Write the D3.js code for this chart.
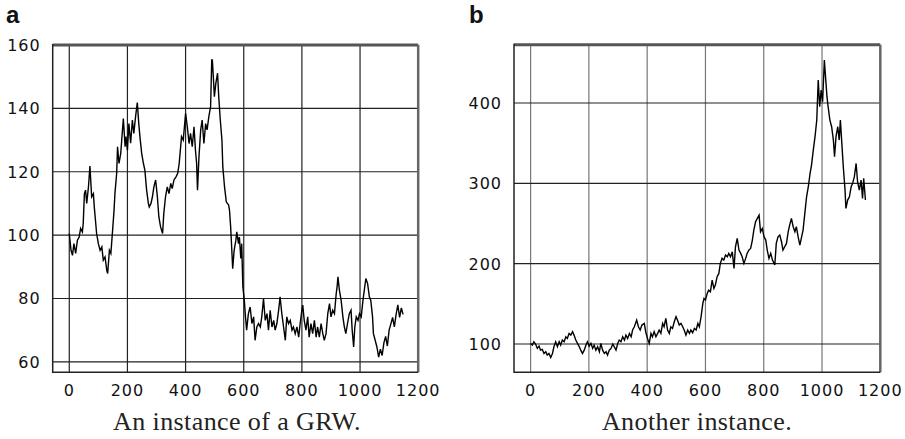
<!DOCTYPE html>
<html>
<head>
<meta charset="utf-8">
<script src="https://cdn.jsdelivr.net/npm/d3@7"></script>
<style>
  body { margin: 0; background: #fff; }
  svg { display: block; }
  .tick-label { font-family: "DejaVu Sans", sans-serif; font-size: 16px; letter-spacing: 1px; fill: #111; }
  .caption { font-family: "Liberation Serif", serif; font-size: 26px; letter-spacing: 0.4px; fill: #222; }
  .panel-tag { font-family: "Liberation Sans", Arial, sans-serif; font-weight: bold; font-size: 24px; fill: #111; }
</style>
</head>
<body>
<div id="chart"></div>
<script>
// panel a (step, value)
const stepsA = [0, 6, 11, 16, 22, 28, 34, 39, 45, 48, 52, 56, 60, 66, 71, 77, 83, 86, 89, 94,
  100, 106, 112, 117, 123, 129, 132, 138, 143, 149, 154, 157, 163, 166, 171, 177, 183, 186, 192, 195,
  200, 205, 211, 217, 222, 228, 234, 239, 243, 249, 255, 260, 266, 272, 275, 281, 286, 291, 297, 303,
  308, 314, 321, 325, 331, 337, 343, 349, 354, 360, 367, 373, 378, 386, 392, 400, 406, 412, 417, 423,
  429, 434, 438, 441, 446, 452, 457, 463, 469, 474, 480, 486, 490, 492, 496, 499, 504, 510, 514, 519,
  525, 528, 534, 540, 548, 551, 555, 559, 562, 567, 573, 576, 582, 585, 590, 593, 597, 602, 606, 610,
  616, 622, 628, 634, 639, 645, 651, 657, 662, 668, 674, 680, 685, 691, 697, 703, 708, 714, 720, 725,
  731, 737, 743, 748, 754, 760, 766, 771, 777, 783, 789, 794, 800, 803, 808, 814, 820, 825, 831, 837,
  843, 849, 854, 860, 866, 872, 877, 883, 889, 895, 900, 906, 912, 918, 921, 924, 929, 935, 941, 946,
  951, 957, 963, 969, 973, 978, 982, 987, 993, 998, 1004, 1010, 1016, 1020, 1026, 1032, 1037, 1043, 1046, 1052,
  1058, 1064, 1070, 1076, 1082, 1088, 1094, 1100, 1106, 1112, 1118, 1124, 1130, 1136, 1142, 1148];
const valuesA = [100.5, 95.2, 93.6, 97.3, 94.2, 98.4, 99.4, 102.1, 101, 103.7, 113.1, 114.2, 110, 115.2, 121.8, 112.1, 113.1, 108.9, 105.8, 100.5,
  97.3, 95.2, 96.3, 92.1, 93.1, 88.9, 87.9, 95.2, 94.2, 101.5, 107.9, 113.1, 119.5, 127.9, 122.6, 125.8, 133.2, 136.8, 127.9, 131.1,
  126.8, 135.2, 129, 136.3, 132.1, 137.4, 141.8, 135.2, 131.1, 125.8, 122.6, 120.5, 114.2, 110, 108.9, 110, 112.1, 115.2, 117.4, 112.1,
  105.8, 102.6, 100.5, 106.8, 112.1, 115.2, 113.1, 116.3, 114.7, 117.4, 118.4, 119.5, 122.6, 131.1, 130, 138.4, 134.2, 128.9, 132.1, 127.9,
  134.2, 126.8, 122.6, 114.2, 124.7, 133.2, 136.3, 128.9, 135.2, 133.2, 137.4, 140.5, 155.3, 155.3, 149, 143.7, 147.9, 151.1, 143.7, 136.8,
  130, 121.6, 115.2, 110.5, 109.5, 107.9, 102.6, 95.2, 89.4, 95.2, 98.4, 101, 97.3, 99.4, 92.6, 97.3, 83.6, 79.4, 74.2, 70,
  75.2, 77.3, 72.1, 74.2, 66.8, 71, 72.1, 71, 74.2, 79.9, 73.1, 75.2, 70, 76.3, 71, 73.1, 70, 72.1, 76.3, 80.5,
  75.2, 71, 66.8, 74.2, 72.1, 73.1, 70, 71, 68.9, 71, 67.8, 72.1, 76.3, 77.9, 73.1, 70, 74.2, 67.8, 72.1, 68.9,
  73.1, 67.8, 71, 67.8, 72.1, 68.9, 66.8, 68.9, 75.2, 78.4, 74.2, 76.3, 75.2, 81.5, 83.6, 86.8, 82.6, 79.4, 74.2, 71,
  68.9, 72.1, 75.2, 76.3, 70, 64.7, 71, 74.2, 73.1, 75.2, 74.2, 79.4, 83.6, 86.3, 84.7, 80.5, 79.4, 74.2, 68.9, 66.8,
  64.7, 61.5, 64, 62, 66, 68, 65, 70, 72, 74, 71, 75, 78, 74, 77, 75];

// panel b
const stepsB = [0, 6, 11, 17, 23, 29, 34, 40, 46, 52, 57, 63, 69, 75, 80, 86, 92, 98, 103, 109,
  115, 121, 126, 132, 138, 144, 149, 155, 161, 167, 172, 178, 184, 190, 195, 201, 207, 213, 218, 224,
  230, 236, 241, 247, 253, 259, 264, 270, 276, 282, 287, 293, 299, 304, 310, 316, 322, 327, 333, 339,
  345, 350, 356, 364, 370, 376, 382, 390, 395, 401, 407, 413, 418, 424, 430, 436, 441, 447, 453, 458,
  464, 470, 476, 481, 487, 493, 499, 504, 510, 516, 522, 527, 533, 539, 545, 550, 556, 562, 568, 574,
  579, 585, 591, 595, 600, 606, 611, 617, 623, 629, 634, 640, 646, 651, 657, 663, 669, 675, 680, 686,
  692, 698, 703, 709, 715, 721, 726, 732, 738, 743, 749, 755, 761, 766, 772, 778, 784, 789, 795, 801,
  807, 812, 818, 824, 830, 838, 843, 849, 855, 861, 866, 872, 878, 884, 889, 895, 901, 907, 912, 918,
  924, 930, 935, 941, 947, 953, 959, 964, 970, 976, 982, 987, 992, 997, 1002, 1008, 1012, 1017, 1021, 1027,
  1033, 1039, 1043, 1048, 1054, 1059, 1063, 1068, 1073, 1079, 1082, 1088, 1094, 1100, 1105, 1111, 1117, 1122, 1128, 1134,
  1139, 1143, 1149];
const valuesB = [100.8, 98.7, 102.8, 99.9, 94.5, 97.4, 92.4, 93.3, 88.3, 90.4, 86.2, 88.3, 83.3, 88.3, 96.6, 102.8, 96.6, 102.8, 98.7, 104.9,
  102.8, 109, 107, 113.2, 111.1, 115.3, 111.1, 104.9, 100.8, 96.6, 92.4, 88.3, 92.4, 98.7, 102.8, 97.4, 100.8, 94.5, 98.7, 92.4,
  96.6, 90.4, 100.8, 92.4, 88.3, 90.4, 86.2, 92.4, 94.5, 99.9, 96.6, 92.4, 100.8, 104.9, 102.8, 109, 104.9, 111.1, 107, 113.2,
  109, 117.4, 121.5, 129.8, 121.5, 117.4, 123.6, 125.6, 115.3, 107, 100.8, 113.2, 109, 115.3, 109, 113.2, 117.4, 113.2, 125.6, 121.5,
  131.9, 117.4, 113.2, 121.5, 119.4, 127.7, 134, 129.8, 123.6, 125.6, 121.5, 117.4, 111.1, 117.4, 113.2, 117.4, 114.1, 119.4, 117.4, 125.6,
  121.5, 134, 150.6, 156.8, 154.7, 163, 167.1, 165.1, 179.6, 169.2, 173.4, 183.8, 187.9, 200.3, 206.6, 204.5, 210.7, 208.6, 212.8, 208.6,
  214.9, 194.1, 221.1, 231.5, 216.9, 212.8, 208.6, 200.3, 206.6, 212.8, 216.9, 219, 229.4, 241.8, 252.2, 256.4, 260.5, 239.8, 243.9, 233.5,
  229.4, 216.9, 206.6, 212.8, 204.5, 198.3, 225.2, 233.5, 235.6, 227.3, 216.9, 221.1, 225.2, 239.8, 248.1, 256.4, 246, 239.8, 246, 233.5,
  223.2, 233.5, 241.8, 262.6, 283.3, 295.8, 312.4, 322.8, 341.4, 358.1, 378.8, 428.6, 395.4, 416.2, 401.6, 453.5, 432.8, 407.9, 395.4, 378.8,
  370.5, 353.9, 333.1, 358.1, 370.5, 353.9, 378.8, 349.8, 320.7, 291.7, 268.8, 279.2, 283.3, 295.8, 300, 308.3, 324.8, 302, 291.7, 304.1,
  281.3, 306.2, 279.2];

const xTicks = [0, 200, 400, 600, 800, 1000, 1200];
const yTicksA = [60, 80, 100, 120, 140, 160];
const yTicksB = [100, 200, 300, 400];

const W = 905, H = 439;
const svg = d3.select("#chart").append("svg").attr("width", W).attr("height", H);

function panel(opt) {
  let x = d3.scaleLinear().domain([-57, 1200]).range([opt.left, opt.right]);
  let y = d3.scaleLinear().domain(opt.yDomain).range([372.3, opt.top]);
  let g = svg.append("g");

  // grid
  g.selectAll(".vgrid").data(xTicks.filter(d => d < 1200)).enter().append("line")
    .attr("x1", d => x(d)).attr("x2", d => x(d))
    .attr("y1", opt.top).attr("y2", 372.3)
    .attr("stroke", opt.vGridColor).attr("stroke-width", 1.2);
  g.selectAll(".hgrid").data(opt.yTicks).enter().append("line")
    .attr("x1", opt.left).attr("x2", opt.right)
    .attr("y1", d => y(d)).attr("y2", d => y(d))
    .attr("stroke", "#222").attr("stroke-width", 1.2);

  // curve
  let pts = opt.steps.map((s, i) => [s, opt.values[i]]);
  g.append("path")
    .datum(pts)
    .attr("fill", "none")
    .attr("stroke", "#000")
    .attr("stroke-width", 1.4)
    .attr("d", d3.line().x(d => x(d[0])).y(d => y(d[1])));

  // frame
  g.append("line").attr("x1", opt.left).attr("x2", opt.right).attr("y1", opt.top).attr("y2", opt.top)
    .attr("stroke", "#555").attr("stroke-width", 3);
  g.append("line").attr("x1", opt.right).attr("x2", opt.right).attr("y1", opt.top).attr("y2", 372.3)
    .attr("stroke", "#666").attr("stroke-width", 2.5);
  g.append("line").attr("x1", opt.left).attr("x2", opt.left).attr("y1", opt.top - 1).attr("y2", 373)
    .attr("stroke", "#222").attr("stroke-width", 1.5);
  g.append("line").attr("x1", opt.left).attr("x2", opt.right).attr("y1", 372.3).attr("y2", 372.3)
    .attr("stroke", "#222").attr("stroke-width", 1.5);

  // tick labels
  g.selectAll(".xl").data(xTicks).enter().append("text")
    .attr("class", "tick-label")
    .attr("x", d => x(d)).attr("y", 396)
    .attr("text-anchor", "middle")
    .text(d => d);
  g.selectAll(".yl").data(opt.yTicks).enter().append("text")
    .attr("class", "tick-label")
    .attr("x", opt.left - 12).attr("y", d => y(d) + 6)
    .attr("text-anchor", "end")
    .text(d => d);

  g.append("text").attr("class", "caption")
    .attr("x", opt.captionX).attr("y", 430)
    .attr("text-anchor", "middle")
    .text(opt.caption);
  g.append("text").attr("class", "panel-tag")
    .attr("x", opt.tagX).attr("y", 23)
    .text(opt.tag);
}

panel({
  left: 52.7, right: 418.2, top: 45, yDomain: [56.7, 160], yTicks: yTicksA,
  steps: stepsA, values: valuesA, vGridColor: "#222",
  caption: "An instance of a GRW.", captionX: 237, tag: "a", tagX: 6
});
panel({
  left: 514, right: 880.3, top: 44.7, yDomain: [64.8, 472.6], yTicks: yTicksB,
  steps: stepsB, values: valuesB, vGridColor: "#777",
  caption: "Another instance.", captionX: 697, tag: "b", tagX: 469
});
</script>
</body>
</html>
